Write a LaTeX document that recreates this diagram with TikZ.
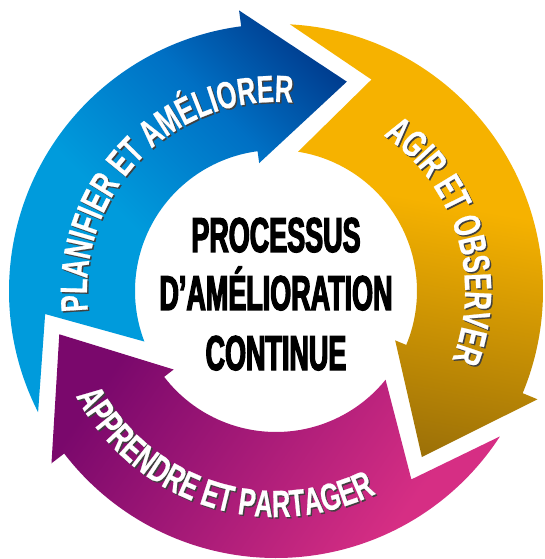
\documentclass[tikz,border=0pt]{standalone}
\usepackage{fontspec}
\usepackage{tikz}
\usetikzlibrary{decorations.text}
\newfontfamily\arrowface{Liberation Sans Bold}[FakeStretch=0.67,FakeBold=0.6]
\newfontfamily\titleface{Liberation Sans Bold}[FakeStretch=0.55,FakeBold=2.5]
\newcommand{\arrowfont}{\fontsize{38}{42}\arrowface}
\newcommand{\titlefont}{\fontsize{49}{59}\titleface}
\definecolor{planL}{RGB}{0,155,220}
\definecolor{planM}{RGB}{0,112,196}
\definecolor{planD}{RGB}{0,56,138}
\definecolor{agirL}{RGB}{246,178,0}
\definecolor{agirD}{RGB}{150,108,8}
\definecolor{apprL}{RGB}{214,46,132}
\definecolor{apprD}{RGB}{122,8,108}
\pgfdeclareverticalshading{planshade}{100bp}{color(0bp)=(planL); color(45bp)=(planL); color(64bp)=(planM); color(80bp)=(planD); color(100bp)=(planD)}
\pgfdeclareverticalshading{agirshade}{100bp}{color(0bp)=(agirD); color(22bp)=(agirD); color(55bp)=(agirL); color(100bp)=(agirL)}
\pgfdeclareverticalshading{apprshade}{100bp}{color(0bp)=(apprL); color(30bp)=(apprL); color(75bp)=(apprD); color(100bp)=(apprD)}
\tikzset{
  arrowtext/.style={decorate, decoration={text along path, text align=center, text color=#1}},
  titletext/.style={anchor=base, font=\titlefont, inner sep=0pt}
}
\newcommand{\cyclearrow}[2]{%
  \shade[#2] ({207+#1}:267) arc[start angle={207+#1}, end angle={97.5+#1}, radius=267]
    -- ({97.5+#1}:283) -- ({71.3+#1}:221) -- ({97.5+#1}:129) -- ({97.5+#1}:141)
    arc[start angle={97.5+#1}, end angle={201+#1}, radius=141]
    -- ({185.7+#1}:232) -- cycle;}
\newcommand{\arrowlabel}[4]{%
  \path[arrowtext=black!75, shift={(1.4,-1.4)}, decoration={text={|\arrowfont|#1}}]
    (#2:#4) arc[start angle=#2, end angle=#3, radius=#4];
  \path[arrowtext=white, decoration={text={|\arrowfont|#1}}]
    (#2:#4) arc[start angle=#2, end angle=#3, radius=#4];}
\begin{document}
\begin{tikzpicture}[x=1pt, y=1pt]
\useasboundingbox (-276,-268) rectangle (269,291);
\fill[white] (-276,-268) rectangle (269,291);
\cyclearrow{0}{shading=planshade, shading angle=-45}
\cyclearrow{-120}{shading=agirshade, shading angle=-10}
\cyclearrow{-240}{shading=apprshade, shading angle=55}
\arrowlabel{PLANIFIER ET AMÉLIORER}{195.5}{75.5}{189}
\arrowlabel{AGIR ET OBSERVER}{77}{-43}{189}
\arrowlabel{APPRENDRE ET PARTAGER}{192}{312}{226}
\node[titletext] (proc) at (0,39) {PROCESSUS};
\node[titletext] (amel) at (0,-19) {D’AMÉLIORATION};
\node[titletext] (cont) at (0,-79) {CONTINUE};
\end{tikzpicture}
\end{document}
